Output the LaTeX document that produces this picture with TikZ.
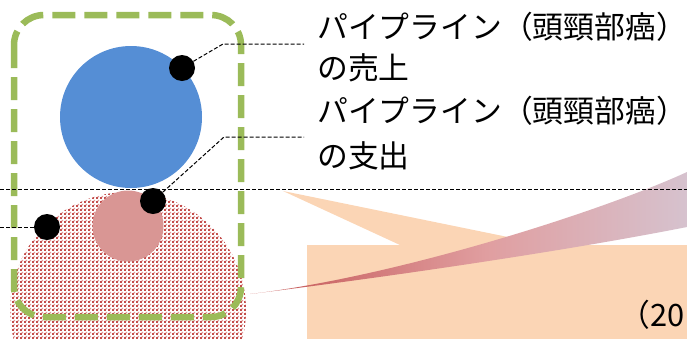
\documentclass[tikz,border=0pt]{standalone}
\usepackage{fontspec}
\newfontfamily\jpfont{Noto Sans CJK JP}
\usetikzlibrary{patterns.meta}
\definecolor{blueC}{RGB}{85,142,213}
\definecolor{pinkC}{RGB}{217,150,148}
\definecolor{patRed}{RGB}{195,78,76}
\definecolor{patLight}{RGB}{226,150,150}
\definecolor{greenC}{RGB}{155,187,89}
\definecolor{peachC}{RGB}{251,213,181}
\definecolor{wA}{RGB}{196,84,82}
\definecolor{wB}{RGB}{224,158,160}
\definecolor{wC}{RGB}{214,194,206}
\pgfdeclarehorizontalshading{wedgeshade}{100bp}{color(0bp)=(wA); color(25bp)=(wA); color(52bp)=(wB); color(75bp)=(wC); color(100bp)=(wC)}
\tikzdeclarepattern{
  name=checkA,
  type=uncolored,
  bounding box={(0pt,0pt) and (4pt,4pt)},
  tile size={(4pt,4pt)},
  code={\fill (0pt,0pt) rectangle (2.3pt,2.3pt);}
}
\tikzdeclarepattern{
  name=checkB,
  type=uncolored,
  bounding box={(0pt,0pt) and (4pt,4pt)},
  tile size={(4pt,4pt)},
  code={\fill (2pt,2pt) rectangle (4pt,4pt);}
}
\tikzset{
  dotnode/.style={circle, fill=black, minimum size=26pt, inner sep=0pt},
  leader/.style={black, line width=1pt, dash pattern=on 4pt off 2pt},
  label/.style={anchor=west, inner sep=0pt, font=\jpfont\fontsize{30.8}{37}\selectfont},
  groupbox/.style={draw=greenC, line width=6.5pt, dash pattern=on 23pt off 9pt, rounded corners=30pt}
}
\begin{document}
\begin{tikzpicture}[x=1pt,y=-1pt]
\useasboundingbox (0,0) rectangle (687,338);
% hatched dome
\fill[white] (128,310) circle[radius=118pt];
\fill[pattern=checkB, pattern color=patLight] (128,310) circle[radius=118pt];
\fill[pattern=checkA, pattern color=patRed] (128,310) circle[radius=118pt];
% pink circle
\fill[pinkC] (128,226) circle[radius=35.5pt];
% blue circle
\fill[blueC] (131,117) circle[radius=71pt];
% green dashed group
\draw[groupbox] (14,15) rectangle (241,317);
% callout
\fill[peachC] (307,245) -- (400,245) -- (283,191) -- (547,245) -- (700,245) -- (700,345) -- (307,345) -- cycle;
% gradient wedge
\shade[shading=wedgeshade] (250,294) .. controls (395,277) and (600,212) .. (687,172)
  -- (687,227) .. controls (560,252) and (380,278) .. (250,294) -- cycle;
% dots
\node[dotnode] (d1) at (182,68) {};
\node[dotnode] (d2) at (153,201) {};
\node[dotnode] (d3) at (47,227) {};
% leader coordinates
\coordinate (b1) at (223,44);
\coordinate (e1) at (304,44);
\coordinate (b2) at (224,137);
\coordinate (e2) at (304,137);
\coordinate (hl) at (0,189);
\coordinate (hr) at (687,189);
\coordinate (l3) at (0,227);
\draw[leader] (d1) -- (b1) -- (e1);
\draw[leader] (d2) -- (b2) -- (e2);
\draw[leader] (hl) -- (hr);
\draw[leader] (l3) -- (d3);
% labels
\node[label] (t1) at (317,27) {パイプライン（頭頸部癌）};
\node[label] (t2) at (317,68) {の売上};
\node[label] (t3) at (317,111) {パイプライン（頭頸部癌）};
\node[label] (t4) at (317,156) {の支出};
\node[label] (t5) at (619,315) {（20};
\end{tikzpicture}
\end{document}
